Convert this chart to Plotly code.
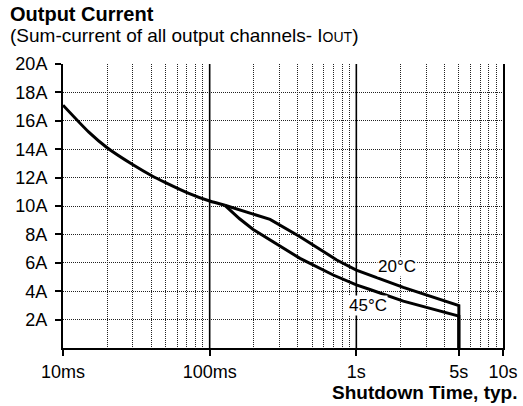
import math
import plotly.graph_objects as go

# ---- data (time in seconds, current in A) ----
t_common = [0.010, 0.015, 0.020, 0.030, 0.040, 0.050, 0.070, 0.100, 0.127]
i_common = [17.1, 15.2, 14.1, 12.9, 12.15, 11.65, 10.95, 10.35, 10.05]

t_20 = [0.127, 0.258, 0.413, 0.735, 1.0, 1.239, 1.52, 2.09, 5.0, 5.0]
i_20 = [10.05, 9.06, 7.84, 6.20, 5.49, 5.14, 4.79, 4.27, 2.98, 0.0]

t_45 = [0.127, 0.160, 0.198, 0.301, 0.413, 0.696, 1.0, 1.239, 2.09, 5.0, 5.0]
i_45 = [10.05, 9.1, 8.35, 7.20, 6.31, 5.14, 4.44, 4.12, 3.30, 2.25, 0.0]

x_tickvals = [0.01, 0.1, 1, 5, 10]
x_ticktext = ["10ms", "100ms", "1s", "5s", "10s"]
x_minor = [m * d for d in (0.01, 0.1, 1) for m in range(2, 10)]
x_decades = [0.1, 1]
y_tickvals = list(range(2, 21, 2))
y_ticktext = [f"{v}A" for v in y_tickvals]

label_20 = (1.894, 5.74)
label_45 = (1.20, 2.96)

FONT = "Liberation Sans, Arial, sans-serif"

fig = go.Figure()

# decade grid lines (solid)
for d in x_decades:
    fig.add_trace(go.Scatter(x=[d, d], y=[0, 20], mode="lines",
                             line=dict(color="black", width=1.6),
                             hoverinfo="skip", showlegend=False))

curve = dict(color="black", width=3)
fig.add_trace(go.Scatter(x=t_common, y=i_common, mode="lines", line=dict(shape="spline", smoothing=0.6, **curve), showlegend=False))
fig.add_trace(go.Scatter(x=t_20, y=i_20, mode="lines", line=curve, showlegend=False))
fig.add_trace(go.Scatter(x=t_45, y=i_45, mode="lines", line=curve, showlegend=False))

fig.update_layout(
    width=523, height=406,
    margin=dict(l=63, r=20, t=64, b=58, autoexpand=False),
    paper_bgcolor="white", plot_bgcolor="white",
    font=dict(family=FONT, size=18, color="black"),
    showlegend=False,
)

GRID = dict(gridcolor="#222222", griddash="1px,1px", gridwidth=1)

fig.update_xaxes(
    type="log", range=[-2, 1],
    tickmode="array", tickvals=x_tickvals, ticktext=x_ticktext,
    ticks="outside", ticklen=6, tickwidth=1.5, tickcolor="black",
    showgrid=False, zeroline=False,
    showline=True, linecolor="black", linewidth=2,
    minor=dict(tickmode="array", tickvals=x_minor, showgrid=True, ticks="", **GRID),
    tickfont=dict(size=18),
)
fig.update_yaxes(
    range=[0, 20],
    tickmode="array", tickvals=y_tickvals, ticktext=y_ticktext,
    ticks="outside", ticklen=6, tickwidth=1.5, tickcolor="black",
    showgrid=True, **GRID,
    zeroline=False,
    showline=True, linecolor="black", linewidth=2, mirror=True,
    tickfont=dict(size=18),
    ticklabelstandoff=4,
)

# texts
fig.add_annotation(text="<b>Output Current</b>", xref="paper", yref="paper",
                   x=-0.125, y=1.176, xanchor="left", yanchor="middle",
                   showarrow=False, font=dict(size=20))
fig.add_annotation(text="(Sum-current of all output channels- I<span style='font-size:14px'>OUT</span>)",
                   xref="paper", yref="paper",
                   x=-0.125, y=1.102, xanchor="left", yanchor="middle",
                   showarrow=False, font=dict(size=19))
fig.add_annotation(text="<b>Shutdown Time, typ.</b>", xref="paper", yref="paper",
                   x=1.036, y=-0.158, xanchor="right", yanchor="middle",
                   showarrow=False, font=dict(size=19))

fig.add_annotation(text="20°C", x=math.log10(label_20[0]), y=label_20[1],
                   showarrow=False, bgcolor="white", borderpad=0, font=dict(size=17))
fig.add_annotation(text="45°C", x=math.log10(label_45[0]), y=label_45[1],
                   showarrow=False, bgcolor="white", borderpad=0, font=dict(size=17))

fig.write_html("out.html", post_script="document.body.style.margin='0';",
               config={"displayModeBar": False})
